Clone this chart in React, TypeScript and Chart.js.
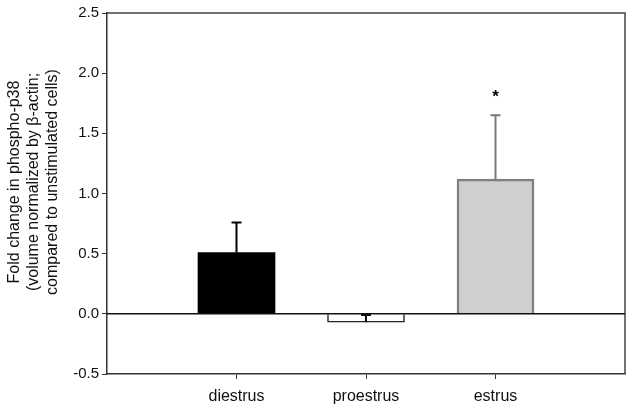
import React, { useEffect, useRef } from "react";
import { Chart, registerables } from "chart.js";

Chart.register(...registerables);

const categories = ["diestrus", "proestrus", "estrus"];
const values = [0.51, -0.07, 1.12];
const errors = [0.25, 0.06, 0.53];
const markers = ["", "", "*"];
const yTicks = [-0.5, 0.0, 0.5, 1.0, 1.5, 2.0, 2.5];
const yTitle = [
  "Fold change in phospho-p38",
  "(volume normalized by \u03b2-actin;",
  "compared to unstimulated cells)",
];

const fillColors = ["#000000", "#ffffff", "#cfcfcf"];
const edgeColors = ["#000000", "#222222", "#808080"];
const errColors = ["#000000", "#111111", "#7a7a7a"];
const FONT = '"Liberation Sans", Arial, sans-serif';

export default function App() {
  const ref = useRef<HTMLCanvasElement | null>(null);
  useEffect(() => {
    if (!ref.current) return;
    const labels = ["", ...categories, ""];
    const data = [null, ...values, null];
    const overlay = {
      id: "overlay",
      afterDatasetsDraw(chart: any) {
        const { ctx, chartArea: a, scales } = chart;
        const y = scales.y;
        const meta = chart.getDatasetMeta(0);
        ctx.save();
        // frame top/right
        ctx.strokeStyle = "#444";
        ctx.lineWidth = 1.5;
        ctx.beginPath();
        ctx.moveTo(a.left, a.top);
        ctx.lineTo(a.right, a.top);
        ctx.lineTo(a.right, a.bottom);
        ctx.stroke();
        // zero line
        const y0 = y.getPixelForValue(0);
        ctx.strokeStyle = "#111";
        ctx.beginPath();
        ctx.moveTo(a.left, y0);
        ctx.lineTo(a.right, y0);
        ctx.stroke();
        // error bars
        values.forEach((v, i) => {
          const el = meta.data[i + 1];
          if (!el) return;
          const x = el.x;
          const yv = y.getPixelForValue(v);
          const ye = y.getPixelForValue(v + errors[i]);
          ctx.strokeStyle = errColors[i];
          ctx.lineWidth = 2;
          ctx.beginPath();
          ctx.moveTo(x, yv);
          ctx.lineTo(x, ye);
          ctx.moveTo(x - 5, ye);
          ctx.lineTo(x + 5, ye);
          ctx.stroke();
          if (markers[i]) {
            ctx.fillStyle = "#000";
            ctx.font = `bold 17px ${FONT}`;
            ctx.textAlign = "center";
            ctx.textBaseline = "middle";
            ctx.fillText(markers[i], x, ye - 18);
          }
        });
        // y title
        ctx.fillStyle = "#111";
        ctx.font = `16px ${FONT}`;
        ctx.textAlign = "center";
        ctx.textBaseline = "middle";
        const cy = 182;
        yTitle.forEach((line, k) => {
          ctx.save();
          ctx.translate(15 + k * 19, cy);
          ctx.rotate(-Math.PI / 2);
          ctx.fillText(line, 0, 0);
          ctx.restore();
        });
        ctx.restore();
      },
    };
    const chart = new Chart(ref.current, {
      type: "bar",
      data: {
        labels,
        datasets: [
          {
            data,
            backgroundColor: ["", ...fillColors, ""],
            borderColor: ["", ...edgeColors, ""],
            borderWidth: [0, 0, 1.5, 2.5, 0],
            barThickness: 77,
          },
        ],
      },
      options: {
        animation: false,
        responsive: true,
        maintainAspectRatio: false,
        devicePixelRatio: 1,
        layout: { padding: { left: 0, right: 9, top: 13, bottom: 0 } },
        plugins: { legend: { display: false }, tooltip: { enabled: false } },
        scales: {
          x: {
            type: "category",
            offset: false,
            grid: {
              offset: false,
              drawOnChartArea: false,
              drawTicks: true,
              tickLength: 5,
              color: (c: any) =>
                c.index === 0 || c.index === labels.length - 1 ? "rgba(0,0,0,0)" : "#333",
            },
            border: { display: true, color: "#333", width: 1.5 },
            ticks: {
              color: "#111",
              font: { family: FONT, size: 16 },
              padding: 8,
              autoSkip: false,
              maxRotation: 0,
            },
            afterFit: (s: any) => {
              s.height = 40;
            },
          },
          y: {
            min: -0.5,
            max: 2.5,
            afterBuildTicks: (s: any) => {
              s.ticks = yTicks.map((v) => ({ value: v }));
            },
            grid: { drawOnChartArea: false, drawTicks: true, tickLength: 5, color: "#333" },
            border: { display: true, color: "#333", width: 1.5 },
            ticks: {
              color: "#111",
              font: { family: FONT, size: 15 },
              padding: 3,
              callback: (v: any) => Number(v).toFixed(1),
            },
            afterFit: (s: any) => {
              s.width = 107;
            },
          },
        },
      },
      plugins: [overlay],
    });
    return () => chart.destroy();
  }, []);
  return (
    <div style={{ position: "absolute", left: 0, top: 0, width: 634, height: 414, background: "#fff" }}>
      <canvas ref={ref} />
    </div>
  );
}
